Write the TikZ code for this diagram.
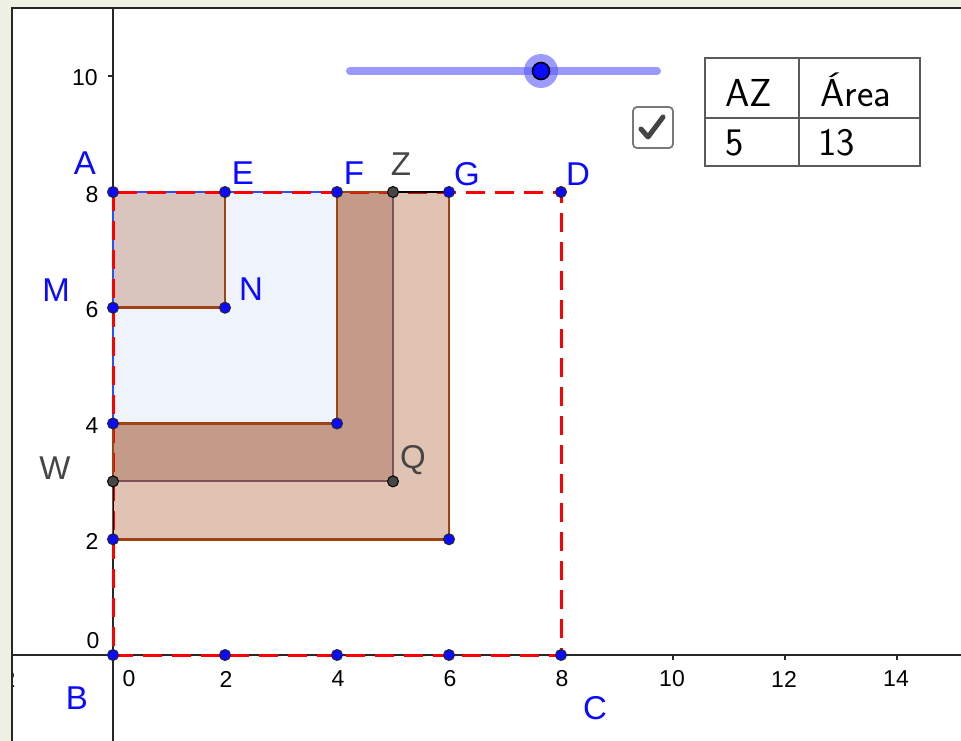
\documentclass[tikz,border=0pt]{standalone}
\usepackage{fontspec}
\setmainfont{Liberation Sans}
\definecolor{bgbeige}{RGB}{238,240,227}
\definecolor{lightL}{RGB}{225,195,180}
\definecolor{darkL}{RGB}{196,154,136}
\definecolor{lightblue}{RGB}{239,243,252}
\definecolor{smallsq}{RGB}{217,196,190}
\definecolor{brownline}{RGB}{160,66,20}
\definecolor{purpleline}{RGB}{125,80,90}
\definecolor{bluethin}{RGB}{40,80,255}
\definecolor{ptblue}{RGB}{10,10,255}
\definecolor{ptgray}{RGB}{70,70,70}
\definecolor{lblgray}{RGB}{70,70,70}
\definecolor{axiscol}{RGB}{40,40,40}
\definecolor{slidercol}{RGB}{153,153,255}
\definecolor{halocol}{RGB}{90,90,255}
\definecolor{tablecol}{RGB}{90,90,90}
\definecolor{boxcol}{RGB}{120,120,120}
\definecolor{checkcol}{RGB}{68,68,68}
\begin{document}
\begin{tikzpicture}[x=1pt,y=-1pt,
  bpt/.style={circle,fill=ptblue,draw=black!85,line width=1pt,inner sep=0pt,minimum size=11pt},
  gpt/.style={circle,fill=ptgray,draw=black,line width=1pt,inner sep=0pt,minimum size=11pt},
  lblb/.style={text=ptblue,font=\fontsize{33}{33}\selectfont,inner sep=0pt},
  lblg/.style={text=lblgray,font=\fontsize{33}{33}\selectfont,inner sep=0pt},
  ticklab/.style={text=black,font=\fontsize{23}{23}\selectfont,inner sep=0pt},
  tabtxt/.style={font=\sffamily\fontsize{39}{39}\selectfont,anchor=base west,inner sep=0pt},
  brownedge/.style={draw=brownline,line width=2.7pt},
  reddash/.style={draw=red,line width=3pt,dash pattern=on 19pt off 10pt},
  axisline/.style={draw=axiscol,line width=1.5pt}]
\useasboundingbox (0,0) rectangle (961,741);
\fill[bgbeige] (0,0) rectangle (961,741);
\fill[white] (12,8) rectangle (961,741);
\begin{scope}
\clip (13,9) rectangle (961,741);
% axes
\draw[axisline] (12,655) -- (961,655);
\draw[axisline] (113,8) -- (113,741);
\foreach \i in {2,4,...,14} {\draw[axisline] (113+56*\i,655) -- (113+56*\i,660);}
\foreach \i in {2,4,...,10} {\draw[axisline] (108,655-57.875*\i) -- (113,655-57.875*\i);}
\node[ticklab] (tm2) at (9,679) {2};
\begin{scope}[shift={(113pt,-655pt)},x=56pt,y=57.875pt]
\coordinate (A) at (0,8);
\coordinate (B) at (0,0);
\coordinate (C) at (8,0);
\coordinate (D) at (8,8);
\coordinate (E) at (2,8);
\coordinate (F) at (4,8);
\coordinate (G) at (6,8);
\coordinate (Z) at (5,8);
\coordinate (M) at (0,6);
\coordinate (N) at (2,6);
\coordinate (Q) at (5,3);
\coordinate (W) at (0,3);
\coordinate (K) at (4,4);
\coordinate (L) at (0,4);
\coordinate (R) at (6,2);
\coordinate (S) at (0,2);
\coordinate (T) at (2,0);
\coordinate (U) at (4,0);
\coordinate (V) at (6,0);
% fills
\fill[lightL] (A) -- (G) -- (R) -- (S) -- cycle;
\fill[darkL] (A) -- (Z) -- (Q) -- (W) -- cycle;
\fill[lightblue] (A) -- (F) -- (K) -- (L) -- cycle;
\fill[smallsq] (A) -- (E) -- (N) -- (M) -- cycle;
% thin blue edges
\draw[bluethin,line width=1.2pt] (L) -- (A) -- (F);
% red dashed square
\draw[reddash] (A) -- (B) -- (C) -- (D) -- cycle;
% brown edges
\draw[brownedge] (E) -- (N) -- (M);
\draw[brownedge] (F) -- (K) -- (L);
\draw[brownedge] (G) -- (R) -- (S);
\draw[brownedge] (F) -- (Z);
\draw[brownedge] (L) -- (S);
\draw[draw=purpleline,line width=1.8pt] (Z) -- (Q) -- (W);
\draw[black,line width=1.4pt] (Z) -- (G);
\draw[black,line width=1pt] (W) -- (S);
% points
\foreach \p in {A,B,C,D,E,F,G,M,N,K,L,R,S,T,U,V} {\node[bpt] (pt\p) at (\p) {};}
\foreach \p in {Z,Q,W} {\node[gpt] (pt\p) at (\p) {};}
\end{scope}
% point labels
\node[lblb] (lA) at (85,163) {A};
\node[lblb] (lE) at (243,173) {E};
\node[lblb] (lF) at (354,173) {F};
\node[lblg] (lZ) at (401,164) {Z};
\node[lblb] (lG) at (467,174) {G};
\node[lblb] (lD) at (578,174) {D};
\node[lblb] (lM) at (56,290) {M};
\node[lblb] (lN) at (251,289) {N};
\node[lblg] (lW) at (55,468) {W};
\node[lblg] (lQ) at (413,460) {Q};
\node[lblb] (lB) at (77,698) {B};
\node[lblb] (lC) at (595,708) {C};
% tick labels
\node[ticklab] (ty10) at (85,78) {10};
\node[ticklab] (ty8) at (92,195) {8};
\node[ticklab] (ty6) at (92,310) {6};
\node[ticklab] (ty4) at (92,426) {4};
\node[ticklab] (ty2) at (92,541) {2};
\node[ticklab] (ty0) at (93,641) {0};
\node[ticklab] (tx0) at (129,679) {0};
\node[ticklab] (tx2) at (226,679) {2};
\node[ticklab] (tx4) at (338,679) {4};
\node[ticklab] (tx6) at (450,679) {6};
\node[ticklab] (tx8) at (562,679) {8};
\node[ticklab] (tx10) at (672,679) {10};
\node[ticklab] (tx12) at (784,679) {12};
\node[ticklab] (tx14) at (896,679) {14};
% slider
\coordinate (s1) at (350,71);
\coordinate (s2) at (657,71);
\coordinate (knob) at (541,71);
\draw[slidercol,line width=8pt,line cap=round] (s1) -- (s2);
\fill[halocol,opacity=0.6] (knob) circle (17pt);
\filldraw[fill=ptblue,draw=black,line width=1.6pt] (knob) circle (8.5pt);
% checkbox
\draw[boxcol,line width=1.8pt,rounded corners=4pt,fill=white] (633,107) rectangle (673,148);
\draw[checkcol,line width=5pt,line cap=round,line join=round] (641,129) -- (648,137) -- (663,117);
% table
\draw[tablecol,line width=1.6pt] (705,58) rectangle (920,166);
\draw[tablecol,line width=1.6pt] (799,58) -- (799,166);
\draw[tablecol,line width=1.6pt] (705,118) -- (920,118);
\node[tabtxt] (tAZ) at (725,107) {AZ};
\node[tabtxt] (tArea) at (820,107) {Área};
\node[tabtxt] (t5) at (725,155) {5};
\node[tabtxt] (t13) at (818,155) {13};
\end{scope}
% panel border
\draw[black!85,line width=2pt] (12,741) -- (12,8) -- (961,8);
\end{tikzpicture}
\end{document}
